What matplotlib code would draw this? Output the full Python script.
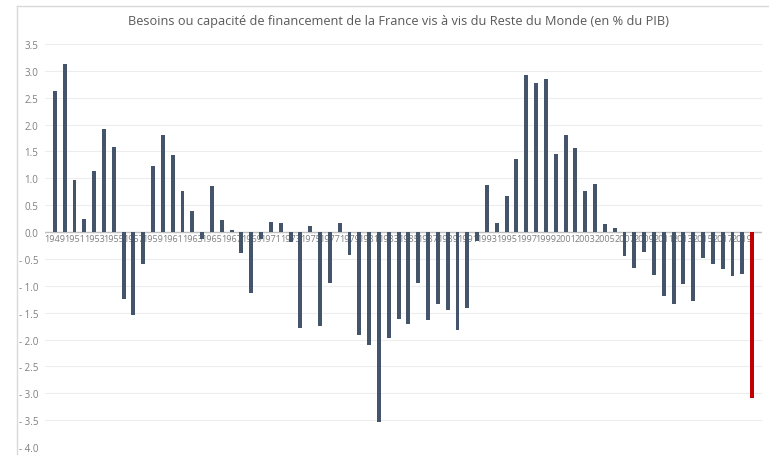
import numpy as np
import matplotlib
matplotlib.use("Agg")
import matplotlib.pyplot as plt
from matplotlib.lines import Line2D
from matplotlib.ticker import FuncFormatter, MultipleLocator

# years 1949..2020
years = list(range(1949, 2021))
values = [
    2.62, 3.12, 0.97, 0.24, 1.13, 1.92, 1.58, -1.25, -1.55, -0.60,   # 1949-1958
    1.23, 1.81, 1.43, 0.77, 0.39, -0.13, 0.86, 0.22, 0.04, -0.39,     # 1959-1968
    -1.14, -0.13, 0.18, 0.17, -0.19, -1.79, 0.12, -1.74, -0.94, 0.17, # 1969-1978
    -0.43, -1.91, -2.10, -3.53, -1.97, -1.62, -1.71, -0.94, -1.63, -1.34,  # 1979-1988
    -1.45, -1.82, -1.41, -0.16, 0.87, 0.17, 0.68, 1.36, 2.92, 2.78,   # 1989-1998
    2.84, 1.46, 1.80, 1.57, 0.77, 0.90, 0.15, 0.07, -0.45, -0.66,     # 1999-2008
    -0.37, -0.80, -1.19, -1.33, -0.96, -1.28, -0.49, -0.60, -0.69, -0.82,  # 2009-2018
    -0.78, -3.09,                                                     # 2019-2020
]
highlight_year = 2020

title = "Besoins ou capacité de financement de la France vis à vis du Reste du Monde (en % du PIB)"


def fmt(v, pos):
    # Excel style label, with a gap after the minus sign
    if v < 0:
        return '- %.1f' % abs(v)
    return '%.1f' % v


plt.rcParams['font.family'] = ['Open Sans', 'DejaVu Sans']

fig = plt.figure(figsize=(7.69, 4.56), dpi=100)
ax = fig.add_axes([45/769, 8/456, 717/769, 403/456])

x = np.arange(len(years))
colors = ['#C00000' if y == highlight_year else '#44546A' for y in years]
ax.bar(x, values, width=0.4, color=colors, zorder=3)

ax.set_xlim(-1, len(years))
ax.set_ylim(-4.0, 3.5)
ax.yaxis.set_major_locator(MultipleLocator(0.5))
ax.yaxis.set_major_formatter(FuncFormatter(fmt))
ax.grid(axis='y', color='#EDEDED', linewidth=0.8, zorder=0)
ax.axhline(0, color='#BFBFBF', linewidth=1.0, zorder=2)

for s in ax.spines.values():
    s.set_visible(False)
ax.tick_params(axis='y', length=0, labelsize=7, labelcolor='#7F7F7F', pad=5)
ax.tick_params(axis='x', length=0)
ax.set_xticks([])

# year labels every two years, just below the zero line, behind the bars
for i, yr in enumerate(years):
    if (yr - 1949) % 2 == 0:
        ax.text(i, -0.04, str(yr), ha='center', va='top', fontsize=6.5,
                color='#7F7F7F', zorder=2.5)

fig.text(398/769, 1 - 22/456, title, ha='center', va='center',
         fontsize=9.2, color='#595959')

# chart frame edges
fig.add_artist(Line2D([17/769, 1], [1 - 7/456, 1 - 7/456],
                      transform=fig.transFigure, color='#D9D9D9', linewidth=1))
fig.add_artist(Line2D([17/769, 17/769], [0, 1 - 7/456],
                      transform=fig.transFigure, color='#D9D9D9', linewidth=1))

plt.savefig('out.png', dpi=100)
